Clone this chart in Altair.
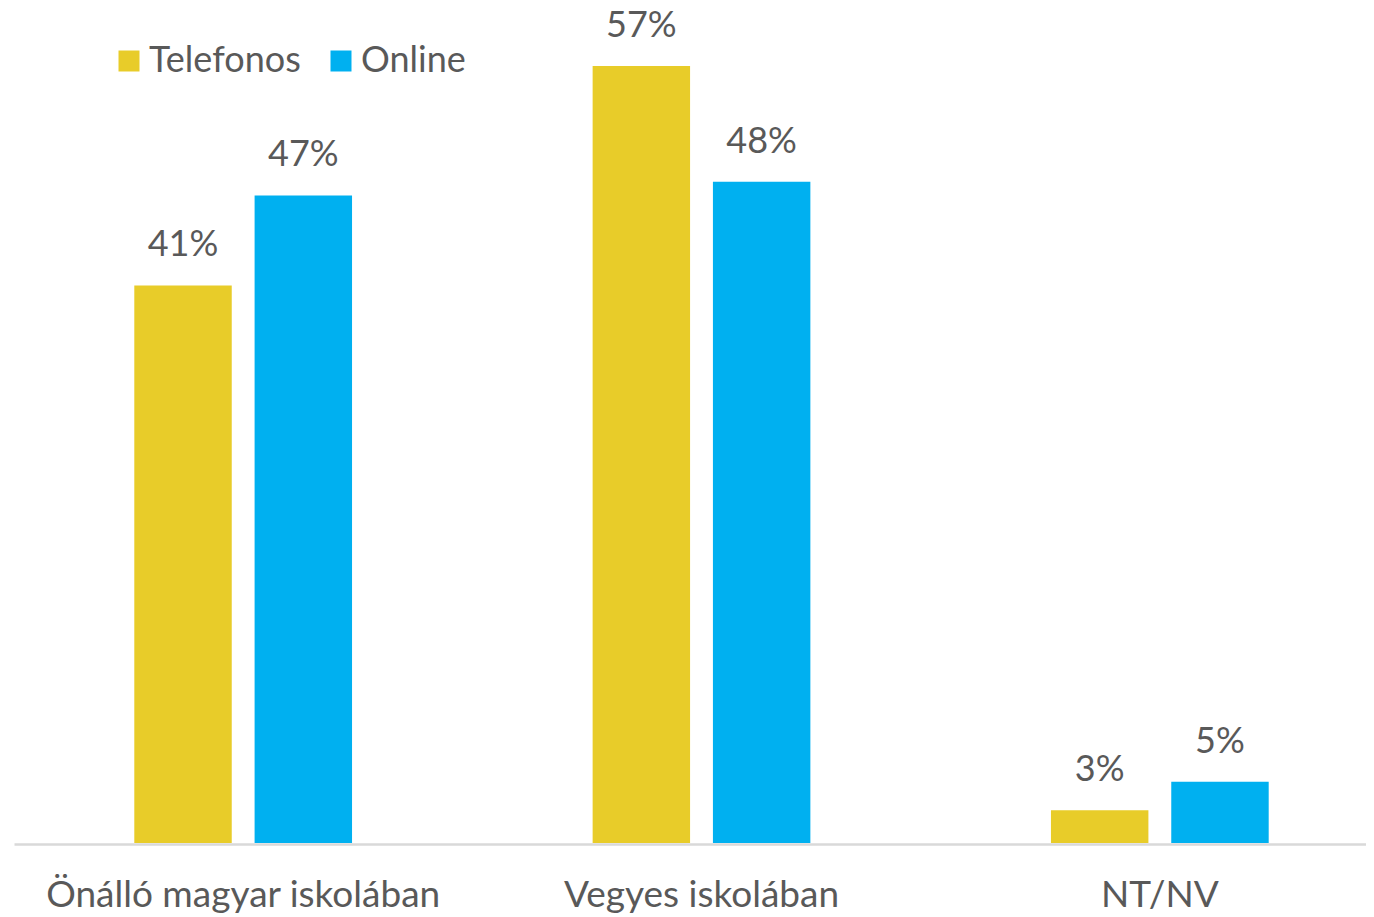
import altair as alt
import pandas as pd

categories = ["Önálló magyar iskolában", "Vegyes iskolában", "NT/NV"]
series = ["Telefonos", "Online"]
telefonos_values = [40.9, 57.0, 2.4]
online_values = [47.5, 48.5, 4.5]
telefonos_labels = ["41%", "57%", "3%"]
online_labels = ["47%", "48%", "5%"]
colors = ["#E8CC29", "#00B0F0"]

rows = []
for i, c in enumerate(categories):
    rows.append({"cat": c, "series": "Telefonos", "value": telefonos_values[i], "label": telefonos_labels[i]})
    rows.append({"cat": c, "series": "Online", "value": online_values[i], "label": online_labels[i]})
df = pd.DataFrame(rows)

FONT = "Lato"
GRAY = "#595959"

x = alt.X("cat:N", sort=categories, title=None,
          scale=alt.Scale(range=[0, 1375], paddingInner=0, paddingOuter=0),
          axis=alt.Axis(labelAngle=0, ticks=False, grid=False, domainColor="#D9D9D9", domainWidth=2.5,
                        offset=1, labelFont=FONT, labelFontSize=37, labelColor=GRAY,
                        labelBaseline="alphabetic", labelPadding=62, labelLimit=600))
xo = alt.XOffset("series:N", sort=series,
                 scale=alt.Scale(paddingInner=0.19, paddingOuter=1.0))
y = alt.Y("value:Q", scale=alt.Scale(domain=[0, 61.25]), axis=None)

base = alt.Chart(df).encode(x=x, xOffset=xo, y=y)

bars = base.mark_bar().encode(
    color=alt.Color("series:N", sort=series,
                    scale=alt.Scale(domain=series, range=colors),
                    legend=alt.Legend(title=None, orient="none", legendX=97, legendY=35,
                                      direction="horizontal", symbolType="square",
                                      symbolSize=441, symbolStrokeWidth=0,
                                      labelFont=FONT, labelFontSize=36, labelColor=GRAY,
                                      labelOffset=2, columnPadding=22, padding=0))
)

labels = base.mark_text(baseline="alphabetic", dy=-29, font=FONT, fontSize=36, color=GRAY).encode(
    text="label:N"
)

chart = (bars + labels).properties(
    width=1352, height=835,
    background="white",
    autosize=alt.AutoSizeParams(type="none"),
    padding={"left": 6, "top": 0, "right": 0, "bottom": 72},
).configure_view(strokeWidth=0, stroke=None).configure_axis(grid=False)

chart.save("out.html", embed_options={"renderer": "svg", "actions": False})
